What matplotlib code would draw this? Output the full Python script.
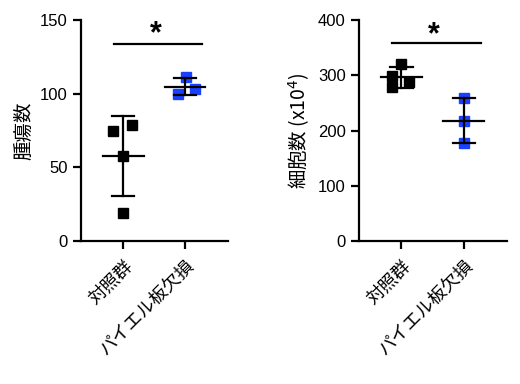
import numpy as np
import matplotlib
matplotlib.use("Agg")
import matplotlib.pyplot as plt

plt.rcParams['font.family'] = ['Liberation Sans', 'Noto Sans CJK JP', 'DejaVu Sans']

# data
groups = ["対照群", "パイエル板欠損"]
tumor_ctrl = [75, 79, 58, 19]
tumor_ko = [100, 111, 103]
cells_ctrl = [298, 321, 278, 288]
cells_ko = [258, 218, 178]

tumor_ticks = [0, 50, 100, 150]
cells_ticks = [0, 100, 200, 300, 400]

# horizontal jitter of the points inside each group
jit_tumor = [[-0.16, 0.15, 0.0, 0.0], [-0.11, 0.02, 0.16]]
jit_cells = [[-0.15, 0.0, -0.15, 0.13], [0.0, 0.0, 0.0]]

BLUE = '#1a40ff'
cjk = ['Noto Sans CJK JP', 'DejaVu Sans']


def draw(ax, series, jitter, ticks, ylabel, sig_y, star_y):
    colors = ['black', BLUE]
    for i, (vals, jit, c) in enumerate(zip(series, jitter, colors)):
        vals = np.array(vals, dtype=float)
        m = vals.mean()
        sd = vals.std(ddof=1)
        ax.plot(i + np.array(jit), vals, 's', color=c, ms=6.5, zorder=3)
        # mean line, SD bar and caps
        ax.plot([i - 0.33, i + 0.33], [m, m], color='black', lw=1.6, zorder=4)
        ax.plot([i, i], [m - sd, m + sd], color='black', lw=1.6, zorder=4)
        for y in (m - sd, m + sd):
            ax.plot([i - 0.18, i + 0.18], [y, y], color='black', lw=1.6, zorder=4)

    # significance bar
    ax.plot([-0.15, 1.27], [sig_y, sig_y], color='black', lw=1.6, clip_on=False)
    ax.text(0.52, star_y, '*', ha='center', va='center', fontsize=22,
            fontweight='bold', clip_on=False)

    ax.set_xlim(-0.68, 1.69)
    ax.set_ylim(ticks[0], ticks[-1])
    ax.set_yticks(ticks)
    ax.set_xticks([0, 1])
    for s in ('top', 'right'):
        ax.spines[s].set_visible(False)
    for s in ('left', 'bottom'):
        ax.spines[s].set_linewidth(1.6)
    ax.tick_params(width=1.6, length=6)
    ax.tick_params(axis='y', labelsize=12)
    ax.tick_params(axis='x', pad=5)
    ax.set_xticklabels(groups, rotation=45, ha='right', rotation_mode='anchor',
                       family=cjk, fontsize=13)
    ax.set_ylabel(ylabel, family=cjk, fontsize=14, labelpad=4)


fig = plt.figure(figsize=(5.2, 3.84), dpi=100)
ax1 = fig.add_axes([0.156, 0.372, 0.282, 0.576])
ax2 = fig.add_axes([0.690, 0.372, 0.285, 0.576])

draw(ax1, [tumor_ctrl, tumor_ko], jit_tumor, tumor_ticks, '腫瘍数', 133.5, 140)
draw(ax2, [cells_ctrl, cells_ko], jit_cells, cells_ticks,
     '細胞数 (x10$^4$)', 358, 373)

fig.savefig('out.png', dpi=100)
